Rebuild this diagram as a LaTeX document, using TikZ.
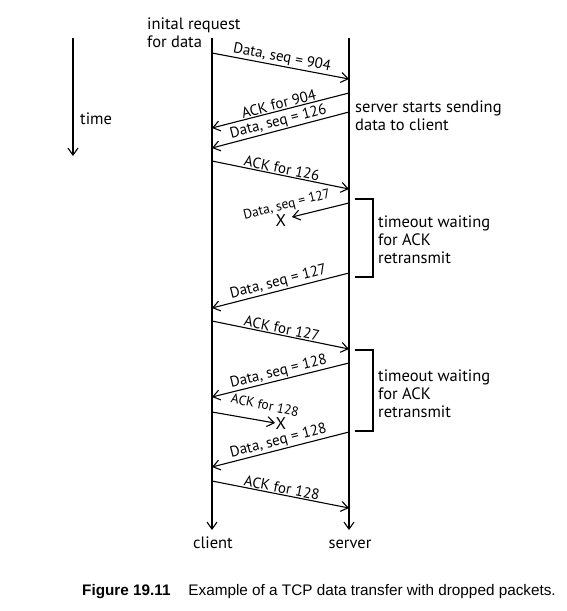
\documentclass[tikz,border=0pt]{standalone}
\usepackage{fontspec}
\setmainfont{PT Sans}
\newfontfamily\capfont{Liberation Sans}
\usetikzlibrary{arrows.meta}
\begin{document}
\begin{tikzpicture}[x=1pt,y=-1pt,
  msg/.style={line width=1.1pt,-{Straight Barb[length=7pt,width=10pt]}},
  lbl/.style={font=\fontsize{15}{16}\selectfont,inner sep=1pt},
  small/.style={font=\fontsize{13.5}{14}\selectfont,inner sep=0pt},
  xmark/.style={font=\fontsize{17}{18}\selectfont,inner sep=0pt},
  txt/.style={font=\fontsize{16.5}{18}\selectfont,align=left,inner sep=0pt},
  brk/.style={line width=1.1pt},
  captxt/.style={inner sep=0pt,font=\capfont\fontsize{15.3}{17}\selectfont},
]
\useasboundingbox (0,0) rectangle (566,611);
\fill[white] (0,0) rectangle (566,611);

% time axis
\coordinate (t0) at (73,38);
\coordinate (t1) at (73,156);
\draw[msg] (t0) -- (t1);
\node[txt,anchor=base west] (time) at (80,124) {time};

% life lines
\coordinate (ctop) at (212,38);
\coordinate (cbot) at (212,530);
\coordinate (stop) at (349,38);
\coordinate (sbot) at (349,530);
\draw[msg] (ctop) -- (cbot);
\draw[msg] (stop) -- (sbot);
\node[txt,anchor=base] (client) at (213,548) {client};
\node[txt,anchor=base] (server) at (350,548) {server};

\node[txt,anchor=base west] (init) at (147,47) {inital request\\for data};
\node[txt,anchor=base west] (sss) at (355,130) {server starts sending\\data to client};

% messages
\coordinate (c1) at (212,53);  \coordinate (s1) at (349,79);
\draw[msg] (c1) -- node[lbl,sloped,above] {Data, seq = 904} (s1);

\coordinate (s2) at (349,93);  \coordinate (c2) at (212,128);
\draw[msg] (s2) -- node[lbl,sloped,above] {ACK for 904} (c2);

\coordinate (s3) at (349,112); \coordinate (c3) at (212,148);
\draw[msg] (s3) -- node[lbl,sloped,above] {Data, seq = 126} (c3);

\coordinate (c4) at (212,161); \coordinate (s4) at (349,189);
\draw[msg] (c4) -- node[lbl,sloped,above] {ACK for 126} (s4);

\coordinate (s5) at (349,203); \coordinate (d5) at (292,217);
\draw[msg] (s5) -- (d5);
\node[small,rotate=14] (l5) at (287,205) {Data, seq = 127};
\node[xmark] (x5) at (281,221) {X};

\coordinate (s6) at (349,273); \coordinate (c6) at (212,308);
\draw[msg] (s6) -- node[lbl,sloped,above] {Data, seq = 127} (c6);

\coordinate (c7) at (212,321); \coordinate (s7) at (349,349);
\draw[msg] (c7) -- node[lbl,sloped,above] {ACK for 127} (s7);

\coordinate (s8) at (349,363); \coordinate (c8) at (212,397);
\draw[msg] (s8) -- node[lbl,sloped,above] {Data, seq = 128} (c8);

\coordinate (c9) at (212,412); \coordinate (d9) at (275,423);
\draw[msg] (c9) -- (d9);
\node[small,rotate=-12] (l9) at (265,405) {ACK for 128};
\node[xmark] (x9) at (281,424) {X};

\coordinate (s10) at (349,432); \coordinate (c10) at (212,467);
\draw[msg] (s10) -- node[lbl,sloped,above] {Data, seq = 128} (c10);

\coordinate (c11) at (212,481); \coordinate (s11) at (349,508);
\draw[msg] (c11) -- node[lbl,sloped,above] {ACK for 128} (s11);

% timeout brackets
\draw[brk] (355,199) -| (373,277) -- (355,277);
\node[txt,anchor=base west] (to1) at (378,263) {timeout waiting\\for ACK\\retransmit};
\draw[brk] (355,350) -| (373,431) -- (355,431);
\node[txt,anchor=base west] (to2) at (378,417) {timeout waiting\\for ACK\\retransmit};

% caption
\node[captxt,anchor=base west] (fig) at (82,595) {\textbf{Figure 19.11}};
\node[captxt,anchor=base east] (captext) at (556,595) {Example of a TCP data transfer with dropped packets.};
\end{tikzpicture}
\end{document}
